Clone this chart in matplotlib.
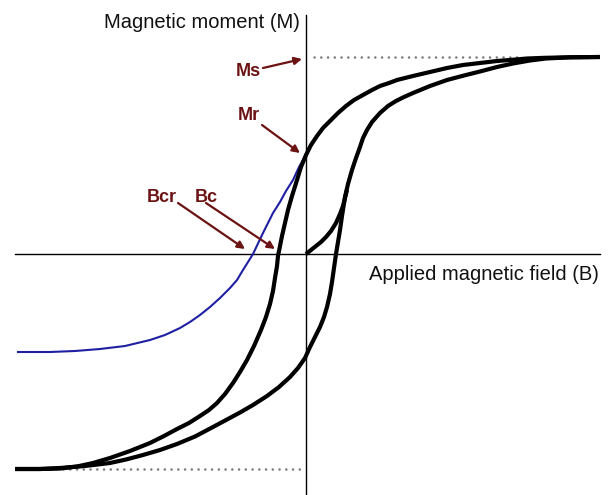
import matplotlib
matplotlib.use("Agg")
import matplotlib.pyplot as plt

plt.rcParams['font.family'] = ['Liberation Sans', 'DejaVu Sans']

# Descending branch of the hysteresis loop (field B, moment M), right to left
upper_B = [294, 264, 239, 221, 204, 191, 174, 157, 141, 124, 107, 91, 83, 74, 66, 57,
           48, 40, 32, 24, 17, 11, 5, 0, -5, -9, -14, -18, -21, -24, -26, -28, -29,
           -31, -33, -36, -40, -45, -52, -59, -66, -73, -81, -89, -97, -106, -117,
           -129, -142, -156, -176, -196, -213, -229, -246, -266, -291]
upper_M = [197, 196.7, 196.2, 195.5, 194, 193, 191, 189, 186, 182, 178, 174, 171, 168,
           164, 159, 154, 148, 141, 133, 126, 118, 109, 99, 87, 74, 58, 44, 31, 18, 8,
           -2, -12, -24, -37, -50, -63, -76, -92, -106, -118, -129, -140, -149, -156,
           -162, -169, -175, -182, -189, -197, -204, -209, -212.5, -214.5, -215, -215]

# Ascending branch, left to right
lower_B = [-291, -266, -246, -221, -196, -180, -163, -146, -129, -111, -93, -79, -66,
           -53, -39, -27, -16, -8, -1, 4, 9, 14, 18, 21, 24, 26, 28, 30, 32, 34, 36, 39,
           42, 46, 50, 54, 57, 61, 66, 74, 82, 90, 98, 107, 124, 141, 158, 174, 191,
           207, 224, 240, 264, 294]
lower_M = [-215, -215, -214, -212, -209, -205.5, -201, -196, -190, -182.5, -173,
           -165.5, -158.5, -151, -142, -133, -123, -114, -104, -93, -83, -73, -63, -53,
           -40, -28, -14, 0, 12, 24, 38, 57, 70, 84, 96, 107, 116, 124, 132, 141, 148,
           153, 157, 161, 168, 174, 178.5, 182.5, 187, 190.5, 193.5, 195.5, 196.7, 197]

# Initial magnetisation curve from the origin
init_B = [0, 5, 10, 15, 20, 25, 30, 34, 37, 39, 41]
init_M = [0, 4, 8, 12, 17, 23, 31, 40, 48, 56, 64]

# Backfield remanence curve starting at Mr
back_B = [0, -7, -13, -20, -26, -33, -43, -53, -63, -69, -76, -86, -96, -106, -116,
          -126, -141, -156, -181, -206, -231, -256, -288]
back_M = [99, 87, 74, 63, 52, 41, 21, 0, -16, -26, -34, -44, -53, -61, -68, -74, -81,
          -86, -92, -95, -97, -98, -98]

Ms_top = 197
Ms_bottom = -215

# annotation labels: text, text position, arrow tail, arrow head
labels = ["Ms", "Mr", "Bcr", "Bc"]
label_pos = [(-58, 182), (-57, 138), (-144, 57), (-100, 57)]
arrow_tail = [(-43, 186), (-44, 129), (-128, 51), (-100, 51)]
arrow_head = [(-4, 195), (-6, 101), (-61, 5), (-31, 5)]

red = '#6b1212'

fig = plt.figure(figsize=(6.08, 4.95), dpi=100)
ax = fig.add_axes([0, 0, 1, 1])
ax.set_xlim(-306, 302)
ax.set_ylim(-241, 254)
ax.axis('off')

# axes through the origin
ax.plot([0, 0], [-241, 239], color='black', lw=1.0)
ax.plot([-291, 294], [0, 0], color='black', lw=1.0)

# saturation guides
dots = dict(color='#777777', lw=1.8, linestyle=(0, (0.05, 2.65)), dash_capstyle='round')
ax.plot([8, 216], [Ms_top, Ms_top], **dots)
ax.plot([-243, -4], [Ms_bottom, Ms_bottom], **dots)

ax.plot(back_B, back_M, color='#1f1fa3', lw=1.5, solid_joinstyle='round')
curve = dict(color='black', lw=3.0, solid_joinstyle='round', solid_capstyle='butt')
ax.plot(upper_B, upper_M, **curve)
ax.plot(lower_B, lower_M, **curve)
ax.plot(init_B, init_M, **curve)

ax.text(-6, 231, "Magnetic moment (M)", ha='right', va='center', fontsize=14.5,
        color='#111111')
ax.text(293, -20, "Applied magnetic field (B)", ha='right', va='center',
        fontsize=14.5, color='#111111')

for txt, pos, tail, head in zip(labels, label_pos, arrow_tail, arrow_head):
    ax.text(pos[0], pos[1], txt, ha='center', va='center', fontsize=13,
            fontweight='bold', color=red)
    ax.annotate("", xy=head, xytext=tail,
                arrowprops=dict(arrowstyle='-|>', color=red, lw=1.6,
                                mutation_scale=11, shrinkA=0, shrinkB=0))

fig.savefig("out.png", dpi=100)
